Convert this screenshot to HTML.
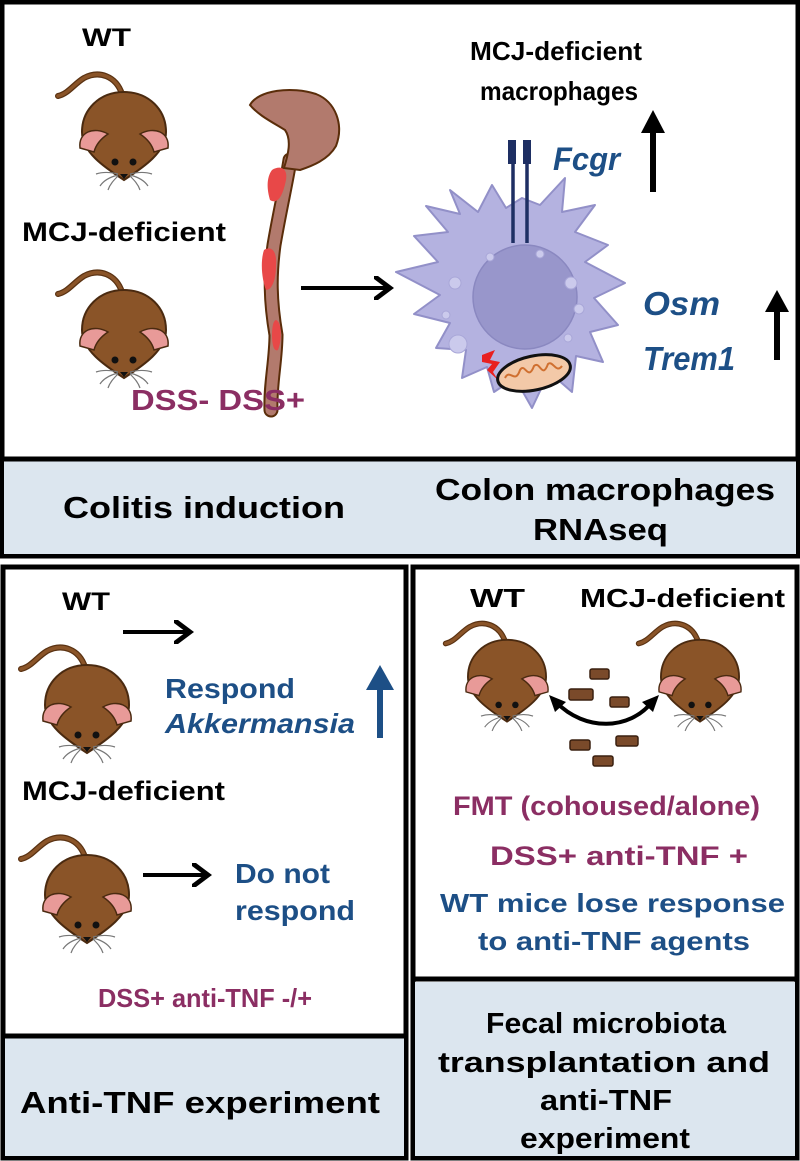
<!DOCTYPE html>
<html><head><meta charset="utf-8"><style>
html,body{margin:0;padding:0;background:#fff}
svg{display:block}
text{font-family:"Liberation Sans",Arial,sans-serif;font-weight:bold}
</style></head><body>
<svg width="800" height="1161" viewBox="0 0 800 1161" xmlns="http://www.w3.org/2000/svg">
<defs>
<g id="mouse">
 <path d="M-2,-38 C-8,-56 -25,-62 -40,-54 C-50,-48 -56,-38 -66,-36" fill="none" stroke="#5a3212" stroke-width="6" stroke-linecap="round"/>
 <path d="M-2,-38 C-8,-56 -25,-62 -40,-54 C-50,-48 -56,-38 -66,-36" fill="none" stroke="#8a5428" stroke-width="3.5" stroke-linecap="round"/>
 <path d="M0,-40 C25,-40 42,-22 42,0 C42,20 20,35 0,48 C-20,35 -42,20 -42,0 C-42,-22 -25,-40 0,-40 Z" fill="#8a5428" stroke="#4a2a10" stroke-width="2"/>
 <path d="M-44,16 C-46,0 -30,-6 -16,2 C-22,6 -28,12 -30,20 Z" fill="#e89a98" stroke="#4a2a10" stroke-width="1.5"/>
 <path d="M44,16 C46,0 30,-6 16,2 C22,6 28,12 30,20 Z" fill="#e89a98" stroke="#4a2a10" stroke-width="1.5"/>
 <circle cx="-9" cy="30" r="3.5" fill="#111"/><circle cx="9" cy="30" r="3.5" fill="#111"/>
 <path d="M-4,42 L4,42 L0,47 Z" fill="#111"/>
 <g stroke="#777" stroke-width="1.2" fill="none">
  <path d="M-6,42 C-14,40 -22,40 -28,42"/><path d="M-6,43 C-14,45 -20,48 -24,54"/><path d="M-6,44 C-10,48 -14,52 -16,58"/>
  <path d="M6,42 C14,40 22,40 28,42"/><path d="M6,43 C14,45 20,48 24,54"/><path d="M6,44 C10,48 14,52 16,58"/>
 </g>
</g>
<marker id="ah" markerWidth="6" markerHeight="6" refX="4" refY="3" orient="auto" markerUnits="strokeWidth"><path d="M0,0 L4,3 L0,6" fill="none" stroke="#000" stroke-width="1.2"/></marker>
</defs>

<rect x="2" y="2" width="796" height="554" fill="#fff" stroke="#000" stroke-width="5"/>
<rect x="4" y="461" width="792" height="93" fill="#dce6ef"/>
<line x1="2" y1="459" x2="798" y2="459" stroke="#000" stroke-width="5"/>

<rect x="3" y="567" width="403" height="591" fill="#fff" stroke="#000" stroke-width="5"/>
<rect x="5" y="1038" width="399" height="118" fill="#dce6ef"/>
<line x1="3" y1="1036" x2="406" y2="1036" stroke="#000" stroke-width="5"/>

<rect x="413" y="567" width="384" height="591" fill="#fff" stroke="#000" stroke-width="5"/>
<rect x="415" y="982" width="380" height="174" fill="#dce6ef"/>
<line x1="413" y1="979" x2="797" y2="979" stroke="#000" stroke-width="5"/>

<text x="82" y="46" font-size="25" textLength="49" lengthAdjust="spacingAndGlyphs">WT</text>
<use href="#mouse" x="124" y="132"/>
<text x="22" y="241" font-size="27" textLength="204" lengthAdjust="spacingAndGlyphs">MCJ-deficient</text>
<use href="#mouse" x="124" y="330"/>

<path d="M290,160 C286,185 280,210 274,245 C270,275 270,300 276,335 C276,360 270,385 271,410" fill="none" stroke="#5a2d0a" stroke-width="15" stroke-linecap="round"/>
<path d="M290,160 C286,185 280,210 274,245 C270,275 270,300 276,335 C276,360 270,385 271,410" fill="none" stroke="#b27a6d" stroke-width="11" stroke-linecap="round"/>
<path d="M250,105 C258,90 292,86 316,94 C336,102 344,125 336,146 C328,160 312,166 300,170 L284,168 C288,155 292,140 285,130 C272,122 258,115 250,105 Z" fill="#b27a6d" stroke="#5a2d0a" stroke-width="2"/>
<path d="M272,170 C280,165 288,168 286,180 C283,195 278,205 270,200 C267,190 266,178 272,170 Z" fill="#e84848"/>
<path d="M264,250 C272,245 277,252 276,265 C276,280 272,290 266,290 C262,280 260,262 264,250 Z" fill="#e84848"/>
<path d="M276,320 C282,322 282,340 278,350 C274,352 272,345 272,335 C272,325 274,320 276,320 Z" fill="#e84848"/>

<text x="131" y="410" font-size="29" fill="#8b2e63" textLength="174" lengthAdjust="spacingAndGlyphs">DSS- DSS+</text>
<line x1="301" y1="288" x2="390" y2="288" stroke="#000" stroke-width="4" marker-end="url(#ah)"/>

<text x="470" y="60" font-size="26" textLength="172" lengthAdjust="spacingAndGlyphs">MCJ-deficient</text>
<text x="480" y="100" font-size="26" textLength="158" lengthAdjust="spacingAndGlyphs">macrophages</text>

<path d="M450,190 L478,212 L492,185 L506,208 L522,198 L540,205 L565,178 L562,212 L595,205 L575,232 L608,245 L585,262 L625,283 L594,298 L618,325 L590,332 L603,362 L576,356 L572,392 L549,372 L532,408 L515,378 L494,392 L487,367 L462,378 L466,350 L436,348 L450,323 L414,314 L440,295 L396,272 L438,262 L414,236 L448,232 L426,206 L460,214 Z" fill="#b4b2e0" stroke="#9290c8" stroke-width="2" stroke-linejoin="round"/>
<circle cx="525" cy="297" r="52" fill="#9896cb" stroke="#8a88c0" stroke-width="1.5"/>
<g fill="#cbcaec" stroke="#a9a7d8" stroke-width="1">
<circle cx="490" cy="257" r="4"/><circle cx="540" cy="254" r="4"/><circle cx="455" cy="283" r="6"/><circle cx="571" cy="283" r="6"/>
<circle cx="446" cy="315" r="4"/><circle cx="579" cy="309" r="5"/><circle cx="458" cy="344" r="9"/><circle cx="568" cy="338" r="4"/>
</g>
<rect x="508" y="140" width="8" height="24" fill="#1e2f63"/><rect x="523" y="140" width="8" height="24" fill="#1e2f63"/>
<line x1="513" y1="150" x2="513" y2="243" stroke="#1e2f63" stroke-width="3.5"/>
<line x1="527" y1="150" x2="527" y2="243" stroke="#1e2f63" stroke-width="3.5"/>
<path d="M482,355 L495,350 L490,360 L500,362 L493,372 L498,380 L487,370 L492,364 L482,362 Z" fill="#e82020"/>
<ellipse cx="534" cy="373" rx="37" ry="17" transform="rotate(-12 534 373)" fill="#f3c9a8" stroke="#111" stroke-width="3"/>
<path d="M505,378 C510,368 515,385 520,370 C525,362 528,382 534,366 C540,360 542,380 548,364 C553,360 556,374 562,366" fill="none" stroke="#d07030" stroke-width="2"/>

<text x="553" y="170" font-size="32" font-style="italic" fill="#1d4f86" textLength="67" lengthAdjust="spacingAndGlyphs">Fcgr</text>
<line x1="653" y1="192" x2="653" y2="130" stroke="#000" stroke-width="6"/>
<path d="M641,133 L653,110 L665,133 Z" fill="#000"/>
<text x="643" y="315" font-size="33" font-style="italic" fill="#1d4f86" textLength="77" lengthAdjust="spacingAndGlyphs">Osm</text>
<text x="643" y="370" font-size="33" font-style="italic" fill="#1d4f86" textLength="92" lengthAdjust="spacingAndGlyphs">Trem1</text>
<line x1="777" y1="360" x2="777" y2="308" stroke="#000" stroke-width="6"/>
<path d="M765,312 L777,290 L789,312 Z" fill="#000"/>

<text x="63" y="518" font-size="31" textLength="282" lengthAdjust="spacingAndGlyphs">Colitis induction</text>
<text x="435" y="500" font-size="31" textLength="340" lengthAdjust="spacingAndGlyphs">Colon macrophages</text>
<text x="533" y="540" font-size="31" textLength="135" lengthAdjust="spacingAndGlyphs">RNAseq</text>

<text x="62" y="610" font-size="25" textLength="48" lengthAdjust="spacingAndGlyphs">WT</text>
<line x1="123" y1="632" x2="190" y2="632" stroke="#000" stroke-width="4" marker-end="url(#ah)"/>
<use href="#mouse" x="87" y="705"/>
<text x="165" y="698" font-size="28" fill="#1d4f86" textLength="130" lengthAdjust="spacingAndGlyphs">Respond</text>
<text x="165" y="733" font-size="28" font-style="italic" fill="#1d4f86" textLength="190" lengthAdjust="spacingAndGlyphs">Akkermansia</text>
<line x1="380" y1="738" x2="380" y2="685" stroke="#1d4f86" stroke-width="6"/>
<path d="M366,690 L380,665 L394,690 Z" fill="#1d4f86"/>
<text x="22" y="800" font-size="27" textLength="203" lengthAdjust="spacingAndGlyphs">MCJ-deficient</text>
<use href="#mouse" x="87" y="895"/>
<line x1="143" y1="875" x2="208" y2="875" stroke="#000" stroke-width="4" marker-end="url(#ah)"/>
<text x="235" y="883" font-size="28" fill="#1d4f86" textLength="95" lengthAdjust="spacingAndGlyphs">Do not</text>
<text x="235" y="920" font-size="28" fill="#1d4f86" textLength="120" lengthAdjust="spacingAndGlyphs">respond</text>
<text x="98" y="1007" font-size="26" fill="#8b2e63" textLength="214" lengthAdjust="spacingAndGlyphs">DSS+ anti-TNF -/+</text>
<text x="20" y="1113" font-size="31" textLength="360" lengthAdjust="spacingAndGlyphs">Anti-TNF experiment</text>

<text x="470" y="607" font-size="26" textLength="55" lengthAdjust="spacingAndGlyphs">WT</text>
<text x="580" y="607" font-size="26" textLength="205" lengthAdjust="spacingAndGlyphs">MCJ-deficient</text>
<g transform="translate(507,677) scale(0.93)"><use href="#mouse"/></g>
<g transform="translate(700,677) scale(0.93)"><use href="#mouse"/></g>
<path d="M556,702 C585,732 630,730 652,702" fill="none" stroke="#000" stroke-width="4"/>
<path d="M549,695 L566,702 L555,712 Z" fill="#000"/>
<path d="M659,695 L642,702 L653,712 Z" fill="#000"/>
<g fill="#7a4a2a" stroke="#3a2010" stroke-width="1.5">
<rect x="590" y="669" width="19" height="10" rx="2"/>
<rect x="569" y="689" width="24" height="11" rx="2"/>
<rect x="610" y="697" width="19" height="10" rx="2"/>
<rect x="570" y="740" width="20" height="10" rx="2"/>
<rect x="616" y="736" width="22" height="10" rx="2"/>
<rect x="593" y="756" width="20" height="10" rx="2"/>
</g>
<text x="453" y="815" font-size="27" fill="#8b2e63" textLength="307" lengthAdjust="spacingAndGlyphs">FMT (cohoused/alone)</text>
<text x="490" y="865" font-size="27" fill="#8b2e63" textLength="258" lengthAdjust="spacingAndGlyphs">DSS+ anti-TNF +</text>
<text x="440" y="912" font-size="26" fill="#1d4f86" textLength="345" lengthAdjust="spacingAndGlyphs">WT mice lose response</text>
<text x="478" y="950" font-size="26" fill="#1d4f86" textLength="272" lengthAdjust="spacingAndGlyphs">to anti-TNF agents</text>
<text x="486" y="1033" font-size="29" textLength="240" lengthAdjust="spacingAndGlyphs">Fecal microbiota</text>
<text x="438" y="1072" font-size="29" textLength="332" lengthAdjust="spacingAndGlyphs">transplantation and</text>
<text x="540" y="1110" font-size="29" textLength="132" lengthAdjust="spacingAndGlyphs">anti-TNF</text>
<text x="520" y="1148" font-size="29" textLength="170" lengthAdjust="spacingAndGlyphs">experiment</text>
</svg>
</body></html>
